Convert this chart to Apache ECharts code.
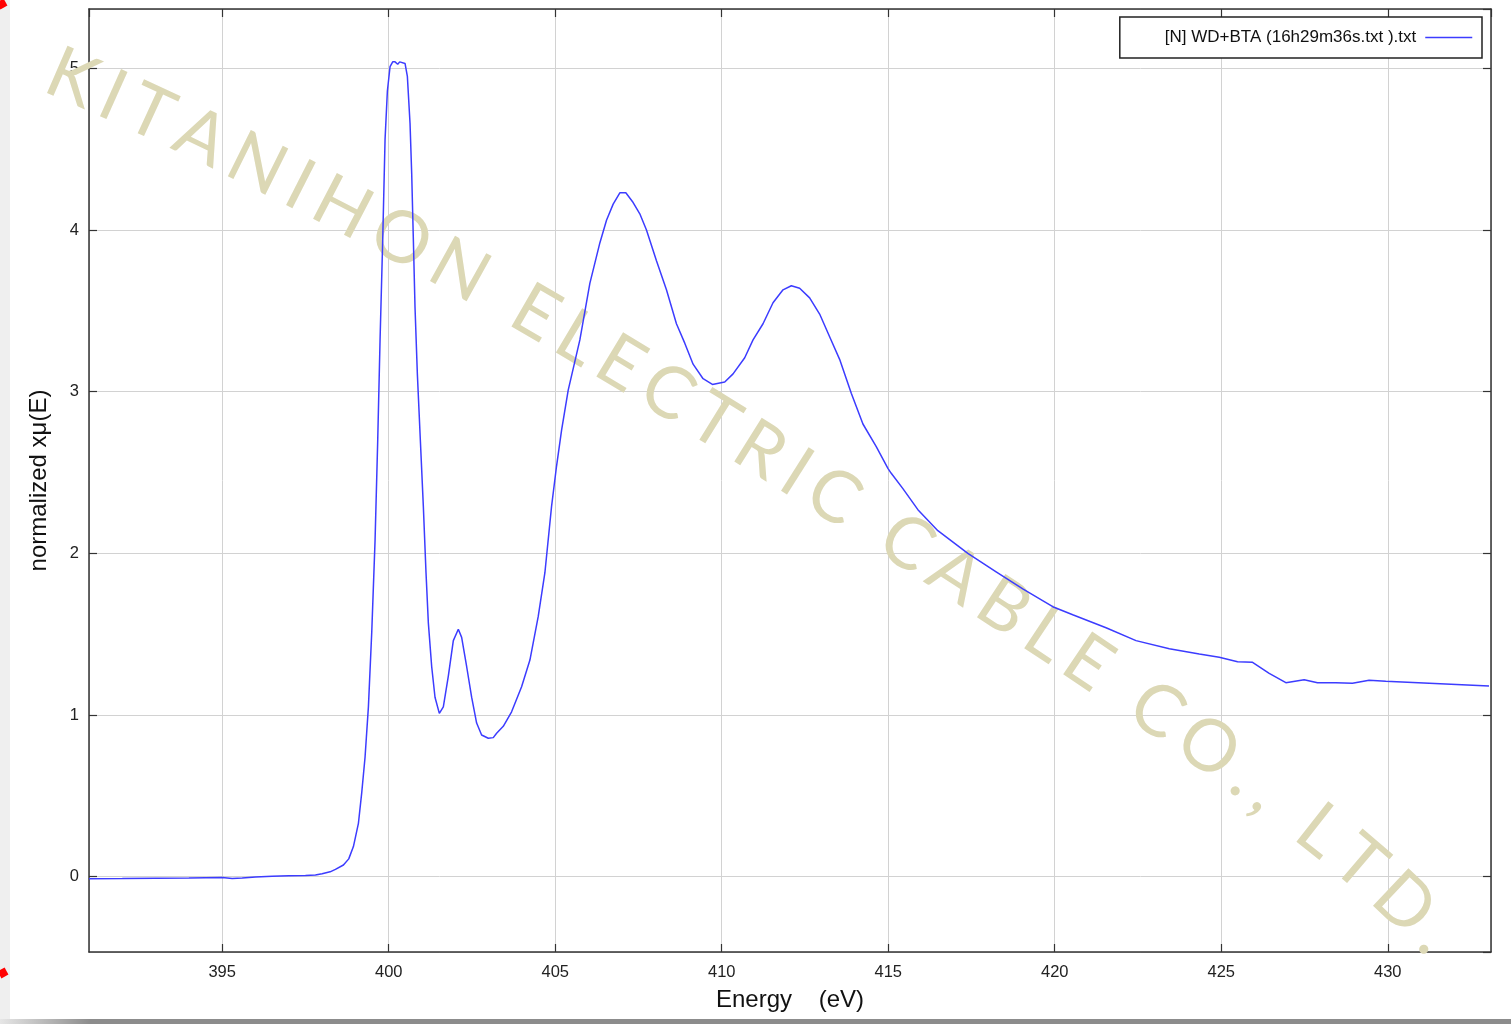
<!DOCTYPE html>
<html>
<head>
<meta charset="utf-8">
<script src="https://cdn.jsdelivr.net/npm/echarts@6/dist/echarts.min.js"></script>
<style>
html,body{margin:0;padding:0;background:#fff;}
#chart{width:1511px;height:1024px;}
</style>
</head>
<body>
<div id="chart"></div>
<script>
// ---- data ----
const energy = [
  391.0, 392.0, 393.0, 394.0, 395.0, 395.3, 395.6, 396.0, 396.5, 397.0,
  397.5, 397.8, 398.0, 398.24, 398.4, 398.64, 398.8, 398.94, 399.09, 399.19,
  399.29, 399.39, 399.49, 399.59, 399.67, 399.74, 399.82, 399.89, 399.96, 400.04,
  400.12, 400.19, 400.27, 400.33, 400.39, 400.49, 400.56, 400.64, 400.69, 400.74,
  400.79, 400.86, 400.95, 401.04, 401.12, 401.19, 401.29, 401.39, 401.52, 401.64,
  401.79, 401.94, 402.09, 402.19, 402.34, 402.49, 402.64, 402.79, 402.99, 403.14,
  403.24, 403.44, 403.69, 403.99, 404.24, 404.49, 404.69, 404.89, 405.04, 405.19,
  405.39, 405.74, 406.04, 406.34, 406.54, 406.74, 406.94, 407.12, 407.34, 407.54,
  407.74, 408.04, 408.34, 408.64, 408.89, 409.14, 409.44, 409.72, 410.09, 410.34,
  410.69, 410.94, 411.24, 411.54, 411.84, 412.09, 412.34, 412.64, 412.94, 413.24,
  413.54, 413.89, 414.24, 414.64, 414.99, 415.09, 415.44, 415.89, 416.49, 417.39,
  418.24, 419.04, 419.94, 420.54, 421.54, 422.44, 423.44, 424.34, 424.94, 425.49,
  425.94, 426.44, 426.94, 427.49, 427.89, 428.44, 428.94, 429.44, 429.94, 433.04
];
const muNorm = [
  -0.013, -0.012, -0.010, -0.008, -0.005, -0.012, -0.008, -0.002, 0.003, 0.005,
  0.007, 0.010, 0.018, 0.030, 0.045, 0.072, 0.110, 0.186, 0.330, 0.520,
  0.740, 1.050, 1.510, 2.080, 2.700, 3.320, 3.940, 4.560, 4.860, 5.010,
  5.040, 5.040, 5.025, 5.040, 5.045, 5.030, 4.950, 4.660, 4.350, 3.940,
  3.520, 3.110, 2.700, 2.290, 1.880, 1.570, 1.300, 1.110, 1.010, 1.050,
  1.240, 1.460, 1.530, 1.480, 1.300, 1.110, 0.950, 0.876, 0.856, 0.860,
  0.887, 0.930, 1.020, 1.175, 1.340, 1.610, 1.880, 2.290, 2.540, 2.760,
  3.010, 3.320, 3.670, 3.920, 4.060, 4.160, 4.230, 4.230, 4.170, 4.100,
  4.000, 3.810, 3.630, 3.420, 3.300, 3.170, 3.080, 3.045, 3.060, 3.110,
  3.210, 3.320, 3.420, 3.550, 3.630, 3.655, 3.640, 3.580, 3.480, 3.340,
  3.200, 2.990, 2.800, 2.660, 2.526, 2.495, 2.400, 2.270, 2.140, 2.000,
  1.886, 1.780, 1.670, 1.620, 1.540, 1.460, 1.410, 1.377, 1.357, 1.330,
  1.326, 1.258, 1.200, 1.218, 1.200, 1.200, 1.196, 1.215, 1.208, 1.180
];
const seriesName = '[N] WD+BTA (16h29m36s.txt ).txt';
const xTitle = 'Energy    (eV)';
const yTitle = 'normalized x\u03bc(E)';
const watermarkText = 'KITANIHON ELECTRIC CABLE CO., LTD.';

const X_MIN = 391.0, X_MAX = 433.1;
const Y_MIN = -0.466, Y_MAX = 5.367;

const points = energy.map((e, i) => [e, muNorm[i]]);

// ---- watermark laid along a gently bending baseline ----
function buildWatermark() {
  const fontSize = 72;
  const font = '400 ' + fontSize + 'px Lato';
  const ctx = document.createElement('canvas').getContext('2d');
  ctx.font = font;
  const chars = Array.from(watermarkText);
  const widths = chars.map(c => ctx.measureText(c).width);
  const totalW = widths.reduce((a, b) => a + b, 0);
  const L = 1640;
  const sp = (L - totalW) / (chars.length - 1);
  const angS = [0, 185, 670, 1160, 1465, 1640];
  const angD = [23, 25.9, 31.5, 33.7, 37.5, 46];
  function ang(s) {
    if (s <= angS[0]) return angD[0];
    for (let i = 1; i < angS.length; i++) {
      if (s <= angS[i]) {
        const t = (s - angS[i - 1]) / (angS[i] - angS[i - 1]);
        return angD[i - 1] + t * (angD[i] - angD[i - 1]);
      }
    }
    return angD[angD.length - 1];
  }
  let x = 40, y = 93, s = 0;
  function advance(d) {
    let rem = d;
    while (rem > 0) {
      const st = Math.min(1, rem);
      const a = ang(s) * Math.PI / 180;
      x += Math.cos(a) * st; y += Math.sin(a) * st; s += st; rem -= st;
    }
  }
  const capH = 0.72 * fontSize;
  const els = [];
  chars.forEach((c, i) => {
    const w = widths[i];
    advance(w / 2);
    const a = ang(s) * Math.PI / 180;
    const cx = x + Math.sin(a) * capH / 2;
    const cy = y - Math.cos(a) * capH / 2;
    if (c !== ' ') {
      els.push({
        type: 'text', x: cx, y: cy, rotation: -a, z: 1, silent: true,
        style: { text: c, font: font, fill: '#dcd8b5', align: 'center', verticalAlign: 'middle' }
      });
    }
    advance(w / 2 + sp);
  });
  return els;
}

const frameDecor = [
  { type: 'rect', shape: { x: 0, y: 0, width: 10, height: 1024 }, style: { fill: '#efefef' }, z: 0, silent: true },
  { type: 'rect', shape: { x: 0, y: 1019, width: 1511, height: 5 },
    style: { fill: new echarts.graphic.LinearGradient(0, 0, 1, 0, [
      { offset: 0, color: '#e6e6e6' }, { offset: 0.06, color: '#8c8c8c' }, { offset: 1, color: '#8c8c8c' }]) },
    z: 0, silent: true },
  { type: 'rect', shape: { x: -4, y: -4, width: 8, height: 8 }, x: 2, y: 4, rotation: 0.5, style: { fill: '#ff0000' }, z: 5, silent: true },
  { type: 'rect', shape: { x: -4, y: -4, width: 8, height: 8 }, x: 3, y: 973, rotation: 0.5, style: { fill: '#ff0000' }, z: 5, silent: true }
];

const axisLineStyle = { color: '#333', width: 1.5 };
const tickStyle = { inside: true, length: 8, lineStyle: { color: '#333', width: 1.2 } };
const labelFont = 'Liberation Sans, Arial, sans-serif';

const chart = echarts.init(document.getElementById('chart'), null, { renderer: 'canvas' });
chart.setOption({
  backgroundColor: '#ffffff',
  animation: false,
  textStyle: { fontFamily: labelFont },
  grid: { left: 89, right: 20, top: 9, bottom: 72, containLabel: false },
  legend: {
    data: [seriesName],
    right: 29, top: 17,
    align: 'right',
    itemWidth: 47, itemHeight: 16,
    padding: [12, 9, 12, 45],
    backgroundColor: '#ffffff',
    borderColor: '#222',
    borderWidth: 1.5,
    itemStyle: { opacity: 0 },
    lineStyle: { color: '#3c3cff', width: 1.5 },
    textStyle: { fontSize: 17, color: '#111', fontFamily: labelFont, padding: [0, 4, 0, 0] }
  },
  xAxis: [
    {
      type: 'value', position: 'bottom', min: X_MIN, max: X_MAX, splitNumber: 8,
      axisLine: { show: true, onZero: false, lineStyle: axisLineStyle },
      axisTick: tickStyle,
      axisLabel: { fontSize: 16.5, color: '#222', margin: 12, showMinLabel: false, showMaxLabel: false },
      splitLine: { show: true, lineStyle: { color: '#d2d2d2', width: 1 } },
      name: xTitle, nameLocation: 'middle', nameGap: 36,
      nameTextStyle: { fontSize: 24, color: '#111', fontFamily: labelFont }
    },
    {
      type: 'value', position: 'top', min: X_MIN, max: X_MAX, splitNumber: 8,
      axisLine: { show: true, onZero: false, lineStyle: axisLineStyle },
      axisTick: tickStyle,
      axisLabel: { show: false },
      splitLine: { show: false }
    }
  ],
  yAxis: [
    {
      type: 'value', position: 'left', min: Y_MIN, max: Y_MAX, splitNumber: 6,
      axisLine: { show: true, onZero: false, lineStyle: axisLineStyle },
      axisTick: tickStyle,
      axisLabel: { fontSize: 16.5, color: '#222', margin: 10, showMinLabel: false, showMaxLabel: false },
      splitLine: { show: true, lineStyle: { color: '#d2d2d2', width: 1 } },
      name: yTitle, nameLocation: 'middle', nameGap: 38,
      nameTextStyle: { fontSize: 24, color: '#111', fontFamily: labelFont }
    },
    {
      type: 'value', position: 'right', min: Y_MIN, max: Y_MAX, splitNumber: 6,
      axisLine: { show: true, onZero: false, lineStyle: axisLineStyle },
      axisTick: tickStyle,
      axisLabel: { show: false },
      splitLine: { show: false }
    }
  ],
  graphic: { elements: frameDecor.concat(buildWatermark()) },
  series: [
    {
      name: seriesName,
      type: 'line',
      xAxisIndex: 0, yAxisIndex: 0,
      data: points,
      symbol: 'none',
      showSymbol: false,
      smooth: false,
      z: 3,
      lineStyle: { color: '#3c3cff', width: 1.5 },
      itemStyle: { color: '#3c3cff' }
    }
  ]
});
</script>
</body>
</html>
